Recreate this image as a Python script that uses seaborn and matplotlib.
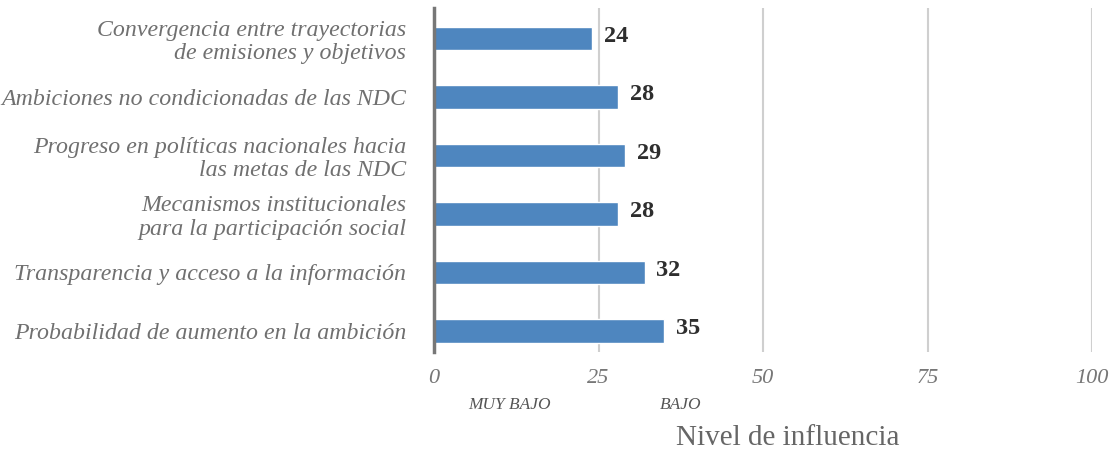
import pandas as pd
import numpy as np
import matplotlib.pyplot as plt
import seaborn as sns

# DATA
categorias = [
    'Convergencia entre trayectorias\nde emisiones y objetivos',
    'Ambiciones no condicionadas de las NDC',
    'Progreso en políticas nacionales hacia\nlas metas de las NDC',
    'Mecanismos institucionales\npara la participación social',
    'Transparencia y acceso a la información',
    'Probabilidad de aumento en la ambición',
]
valores = [24, 28, 29, 28, 32, 35]
ticks_x = [0, 25, 50, 75, 100]

df = pd.DataFrame({'categoria': categorias, 'valor': valores})

# PLOT
sns.set_style('white')
plt.rcParams['font.family'] = ['Liberation Serif', 'DejaVu Serif']

fig = plt.figure(figsize=(11.1, 4.53), dpi=100)
ax = fig.add_axes([0.391, 0.223, 0.593, 0.759])

sns.barplot(data=df, x='valor', y='categoria', orient='h', color='#4e86bf',
            width=0.4, ax=ax, saturation=1)

ax.set_xlim(0, 100)
ax.set_ylim(5.36, -0.52)
ax.set_xticks(ticks_x)
ax.xaxis.grid(True, color='#cfcfcf', linewidth=1.5)
ax.set_axisbelow(True)
for s in ['top', 'right', 'bottom']:
    ax.spines[s].set_visible(False)
ax.spines['left'].set_color('#777777')
ax.spines['left'].set_linewidth(2.5)
ax.tick_params(axis='both', length=0)
ax.tick_params(axis='x', labelsize=16, labelcolor='#777777', pad=12)
ax.tick_params(axis='y', labelsize=17.2, labelcolor='#707070', pad=20)
for t in ax.get_xticklabels() + ax.get_yticklabels():
    t.set_fontstyle('italic')
for t in ax.get_yticklabels():
    t.set_linespacing(1.15)
ax.set_ylabel('')
ax.set_xlabel('')

# value labels
for i, v in enumerate(valores):
    ax.text(v + 1.8, i - 0.04, str(v), va='center', ha='left', fontsize=17.5,
            fontweight='bold', color='#2e2e2e')

# level labels and axis title
fig.text(0.459, 0.106, 'MUY BAJO', fontsize=12.5, style='italic', color='#555555', ha='center', va='center')
fig.text(0.613, 0.106, 'BAJO', fontsize=12.5, style='italic', color='#555555', ha='center', va='center')
fig.text(0.71, 0.033, 'Nivel de influencia', fontsize=21, color='#666666', ha='center', va='center')

plt.savefig('out.png', dpi=100)
